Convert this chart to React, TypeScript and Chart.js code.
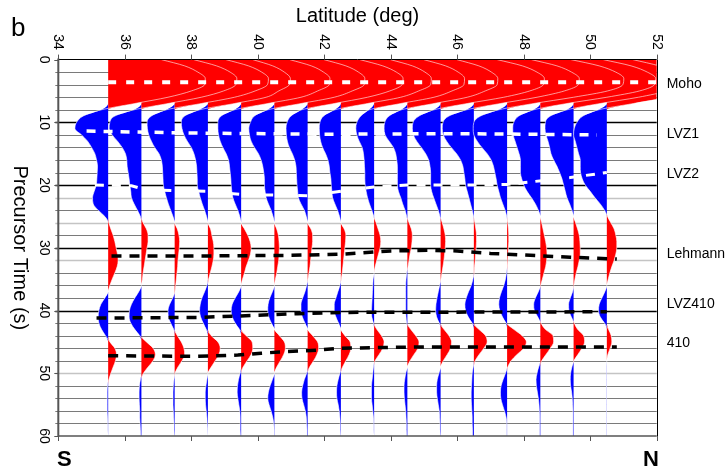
import React, { useEffect, useRef } from 'react';
import { Chart, registerables } from 'chart.js';

Chart.register(...registerables);

// ---------- data ----------
const times = [
  0, 1, 2, 3, 4, 5, 6, 7, 8, 9, 10, 11, 12, 13, 14, 15, 16, 17, 18, 19, 20,
  21, 22, 23, 24, 25, 26, 27, 28, 29, 30, 31, 32, 33, 34, 35, 36, 37, 38, 39, 40,
  41, 42, 43, 44, 45, 46, 47, 48, 49, 50, 51, 52, 53, 54, 55, 56, 57, 58, 59, 60,
];

const traceLatitudes = [35.5, 36.5, 37.5, 38.5, 39.5, 40.5, 41.5, 42.5, 43.5, 44.5, 45.5, 46.5, 47.5, 48.5, 49.5, 50.5];

const amp35_5 = [1.6, 2.3, 2.7, 2.92, 2.9, 2.5, 1.8, 0.8,
  -0.2, -0.75, -0.95, -1.0, -0.8, -0.62, -0.5, -0.4, -0.35, -0.32, -0.33, -0.34, -0.36, -0.42, -0.47, -0.45, -0.3, -0.1,
  0.02, 0.08, 0.15, 0.2, 0.24, 0.28, 0.3, 0.27, 0.2, 0.12, 0.05, 0.0,
  -0.1, -0.22, -0.28, -0.3, -0.28, -0.2, -0.08,
  0.05, 0.2, 0.25, 0.22, 0.15, 0.08, 0.02,
  -0.02, -0.03, -0.03, -0.03, -0.03, -0.02, -0.01, -0.01, 0];
const amp36_5 = [1.57, 2.26, 2.67, 2.87, 2.84, 2.47, 1.8, 0.8,
  -0.22, -0.8, -0.95, -0.97, -0.88, -0.72, -0.58, -0.48, -0.44, -0.43, -0.4, -0.37, -0.35, -0.32, -0.3, -0.22, -0.12, -0.03,
  0.05, 0.15, 0.2, 0.2, 0.17, 0.14, 0.11, 0.08, 0.05, 0.03, 0.0,
  -0.08, -0.2, -0.3, -0.36, -0.37, -0.32, -0.2, -0.05,
  0.15, 0.35, 0.42, 0.35, 0.2, 0.06,
  -0.03, -0.06, -0.07, -0.07, -0.06, -0.05, -0.05, -0.04, -0.03, -0.02];
const amp37_5 = [1.54, 2.22, 2.62, 2.82, 2.79, 2.42, 1.8, 0.8,
  -0.25, -0.7, -0.83, -0.82, -0.78, -0.7, -0.6, -0.47, -0.4, -0.37, -0.36, -0.35, -0.34, -0.3, -0.25, -0.19, -0.12, -0.05,
  0.0, 0.08, 0.13, 0.15, 0.14, 0.12, 0.1, 0.09, 0.07, 0.05, 0.03, 0.01,
  -0.06, -0.15, -0.2, -0.19, -0.12, -0.03,
  0.08, 0.2, 0.28, 0.3, 0.22, 0.1, 0.01,
  -0.02, -0.04, -0.05, -0.05, -0.05, -0.04, -0.03, -0.02, -0.02, -0.01];
const amp38_5 = [1.35, 1.95, 2.3, 2.48, 2.45, 2.13, 1.75, 0.8,
  -0.25, -0.7, -0.8, -0.78, -0.72, -0.62, -0.5, -0.42, -0.37, -0.34, -0.33, -0.32, -0.32, -0.28, -0.23, -0.17, -0.1, -0.04,
  0.0, 0.08, 0.12, 0.16, 0.18, 0.18, 0.16, 0.12, 0.07, 0.02,
  -0.03, -0.1, -0.18, -0.23, -0.25, -0.22, -0.14, -0.05,
  0.1, 0.3, 0.37, 0.33, 0.22, 0.1, 0.0,
  -0.03, -0.06, -0.08, -0.08, -0.07, -0.05, -0.03, -0.02, -0.01, 0];
const amp39_5 = [1.46, 2.11, 2.48, 2.67, 2.65, 2.3, 1.8, 0.8,
  -0.2, -0.6, -0.7, -0.7, -0.68, -0.63, -0.55, -0.45, -0.38, -0.35, -0.33, -0.31, -0.3, -0.28, -0.25, -0.18, -0.1, -0.04,
  0.0, 0.1, 0.2, 0.27, 0.3, 0.28, 0.22, 0.15, 0.1, 0.04, 0.0,
  -0.07, -0.18, -0.27, -0.3, -0.27, -0.18, -0.05,
  0.15, 0.33, 0.35, 0.3, 0.18, 0.06,
  -0.03, -0.08, -0.11, -0.12, -0.1, -0.07, -0.04, -0.03, -0.03, -0.03, -0.02];
const amp40_5 = [1.49, 2.15, 2.53, 2.72, 2.7, 2.34, 1.8, 0.8,
  -0.2, -0.6, -0.72, -0.77, -0.75, -0.7, -0.6, -0.48, -0.4, -0.35, -0.32, -0.3, -0.3, -0.28, -0.25, -0.18, -0.1, -0.04,
  0.0, 0.07, 0.12, 0.14, 0.15, 0.14, 0.13, 0.1, 0.07, 0.03, 0.0,
  -0.06, -0.14, -0.19, -0.2, -0.17, -0.09, 0.0,
  0.15, 0.3, 0.33, 0.28, 0.18, 0.07, 0.0,
  -0.06, -0.13, -0.18, -0.2, -0.16, -0.1, -0.05, -0.02, -0.01, -0.01];
const amp41_5 = [1.57, 2.26, 2.67, 2.87, 2.84, 2.47, 1.8, 0.8,
  -0.18, -0.5, -0.62, -0.65, -0.64, -0.61, -0.55, -0.46, -0.39, -0.35, -0.34, -0.33, -0.32, -0.3, -0.28, -0.2, -0.1, -0.04,
  0.0, 0.1, 0.15, 0.15, 0.13, 0.11, 0.09, 0.07, 0.04, 0.01,
  -0.03, -0.08, -0.15, -0.2, -0.2, -0.16, -0.08, 0.0,
  0.15, 0.3, 0.33, 0.28, 0.18, 0.06,
  -0.03, -0.1, -0.15, -0.18, -0.17, -0.12, -0.07, -0.04, -0.03, -0.02, -0.02];
const amp42_5 = [1.49, 2.15, 2.53, 2.72, 2.7, 2.34, 1.8, 0.8,
  -0.18, -0.52, -0.63, -0.65, -0.64, -0.61, -0.55, -0.46, -0.39, -0.35, -0.33, -0.3, -0.29, -0.27, -0.25, -0.18, -0.1, -0.04,
  0.0, 0.1, 0.15, 0.14, 0.12, 0.1, 0.08, 0.06, 0.04, 0.01,
  -0.03, -0.09, -0.15, -0.2, -0.2, -0.15, -0.07, 0.0,
  0.12, 0.28, 0.3, 0.25, 0.15, 0.05,
  -0.03, -0.08, -0.12, -0.13, -0.12, -0.08, -0.05, -0.03, -0.02, -0.02, -0.01];
const amp43_5 = [1.49, 2.15, 2.53, 2.72, 2.7, 2.34, 1.8, 0.8,
  -0.15, -0.4, -0.52, -0.55, -0.52, -0.45, -0.36, -0.32, -0.3, -0.29, -0.28, -0.28, -0.27, -0.24, -0.2, -0.14, -0.07, -0.01,
  0.06, 0.12, 0.18, 0.2, 0.18, 0.13, 0.08, 0.03, 0.0,
  -0.03, -0.04, -0.05, -0.06, -0.07, -0.08, -0.07, -0.02,
  0.08, 0.22, 0.3, 0.26, 0.15, 0.03,
  -0.02, -0.04, -0.06, -0.08, -0.08, -0.08, -0.06, -0.04, -0.02, -0.01, -0.01, 0];
const amp44_5 = [1.49, 2.15, 2.53, 2.72, 2.7, 2.34, 1.8, 0.8,
  -0.18, -0.55, -0.68, -0.7, -0.67, -0.55, -0.42, -0.35, -0.32, -0.3, -0.3, -0.3, -0.3, -0.27, -0.2, -0.14, -0.07, -0.02,
  0.05, 0.12, 0.15, 0.14, 0.12, 0.08, 0.05, 0.02,
  -0.02, -0.04, -0.05, -0.05, -0.05, -0.05, -0.05, -0.04, -0.02,
  0.1, 0.25, 0.35, 0.32, 0.2, 0.08, 0.0,
  -0.05, -0.08, -0.1, -0.1, -0.09, -0.07, -0.05, -0.04, -0.03, -0.03, -0.02];
const amp45_5 = [1.7, 2.46, 2.9, 3.12, 3.09, 2.68, 1.9, 0.8,
  -0.2, -0.65, -0.83, -0.85, -0.82, -0.72, -0.58, -0.45, -0.36, -0.32, -0.3, -0.3, -0.3, -0.27, -0.21, -0.14, -0.07, -0.02,
  0.05, 0.1, 0.14, 0.15, 0.14, 0.12, 0.1, 0.07, 0.04, 0.01,
  -0.03, -0.07, -0.11, -0.14, -0.15, -0.12, -0.04,
  0.1, 0.25, 0.33, 0.3, 0.2, 0.08, 0.0,
  -0.05, -0.1, -0.12, -0.12, -0.1, -0.07, -0.04, -0.03, -0.02, -0.02, -0.01];
const amp46_5 = [1.73, 2.5, 2.94, 3.17, 3.14, 2.72, 1.9, 0.8,
  -0.22, -0.75, -0.93, -0.95, -0.92, -0.82, -0.68, -0.52, -0.4, -0.33, -0.3, -0.27, -0.25, -0.2, -0.15, -0.1, -0.05, -0.01,
  0.03, 0.06, 0.08, 0.08, 0.07, 0.05, 0.04, 0.02, 0.01,
  -0.03, -0.08, -0.16, -0.23, -0.27, -0.25, -0.17, -0.05,
  0.15, 0.35, 0.4, 0.3, 0.16, 0.04,
  -0.02, -0.05, -0.06, -0.07, -0.08, -0.08, -0.07, -0.06, -0.05, -0.05, -0.04, -0.04];
const amp47_5 = [1.92, 2.77, 3.27, 3.51, 3.48, 3.02, 2.0, 0.8,
  -0.25, -0.8, -1.0, -1.02, -1.0, -0.9, -0.76, -0.6, -0.48, -0.41, -0.37, -0.33, -0.3, -0.25, -0.2, -0.13, -0.06, -0.01,
  0.02, 0.04, 0.05, 0.05, 0.04, 0.03, 0.02, 0.01,
  -0.02, -0.05, -0.1, -0.17, -0.23, -0.25, -0.22, -0.14, -0.03,
  0.2, 0.45, 0.58, 0.5, 0.3, 0.12, 0.02,
  -0.05, -0.12, -0.18, -0.2, -0.19, -0.14, -0.08, -0.03, -0.01, -0.01, -0.01];
const amp48_5 = [1.89, 2.73, 3.22, 3.47, 3.43, 2.98, 2.0, 0.8,
  -0.2, -0.65, -0.8, -0.83, -0.82, -0.76, -0.7, -0.64, -0.6, -0.6, -0.6, -0.56, -0.5, -0.4, -0.27, -0.15, -0.06, 0.0,
  0.04, 0.08, 0.12, 0.16, 0.19, 0.2, 0.19, 0.16, 0.11, 0.06, 0.01,
  -0.06, -0.15, -0.2, -0.18, -0.08, 0.02,
  0.15, 0.38, 0.4, 0.3, 0.17, 0.04,
  -0.05, -0.1, -0.13, -0.12, -0.09, -0.06, -0.04, -0.03, -0.02, -0.02, -0.02, -0.02];
const amp49_5 = [1.78, 2.57, 3.04, 3.27, 3.23, 2.81, 1.95, 0.8,
  -0.2, -0.7, -0.85, -0.86, -0.83, -0.77, -0.72, -0.68, -0.6, -0.5, -0.42, -0.35, -0.3, -0.25, -0.2, -0.12, -0.05, 0.0,
  0.06, 0.12, 0.17, 0.19, 0.2, 0.2, 0.17, 0.13, 0.08, 0.04, 0.01,
  -0.03, -0.1, -0.15, -0.14, -0.07, 0.02,
  0.12, 0.3, 0.33, 0.25, 0.13, 0.01,
  -0.05, -0.09, -0.1, -0.09, -0.06, -0.04, -0.03, -0.02, -0.02, -0.02, -0.02, -0.02];
const amp50_5 = [1.62, 2.34, 2.76, 2.97, 2.94, 2.55, 1.85, 0.8,
  -0.25, -0.72, -0.9, -0.98, -1.0, -0.95, -0.9, -0.85, -0.8, -0.8, -0.79, -0.74, -0.65, -0.5, -0.36, -0.2, -0.07, 0.02,
  0.12, 0.22, 0.27, 0.3, 0.3, 0.27, 0.22, 0.15, 0.09, 0.04, 0.0,
  -0.06, -0.15, -0.23, -0.25, -0.2, -0.07,
  0.05, 0.13, 0.15, 0.1, 0.03, 0.0,
  -0.01, -0.01, -0.01, -0.01, -0.01, -0.01, -0.01, -0.01, -0.01, -0.01, -0.01, -0.01];

const traceAmplitudes = [amp35_5, amp36_5, amp37_5, amp38_5, amp39_5, amp40_5, amp41_5, amp42_5,
  amp43_5, amp44_5, amp45_5, amp46_5, amp47_5, amp48_5, amp49_5, amp50_5];

// picked phase lines (latitude, time)
const mohoLat = [35.5, 52];
const mohoTime = [3.6, 3.6];
const lvz1Lat = [34.85, 38, 42, 46, 50.2];
const lvz1Time = [11.4, 11.7, 11.9, 11.8, 12.0];
const lvz2Lat = [35.1, 36.2, 36.6, 37.5, 38.5, 39.5, 41.5, 42.5, 43.5, 44.5, 46.5, 47.5, 48.2, 49.4, 50.5];
const lvz2Time = [20.0, 20.1, 20.7, 20.9, 21.0, 21.5, 21.7, 21.0, 20.3, 20.0, 20.0, 19.9, 19.5, 18.8, 18.0];
const lehmannLat = [35.6, 38.5, 41, 42.6, 44, 45.2, 46, 47, 48.2, 49.4, 50.8];
const lehmannTime = [31.3, 31.3, 31.2, 31.0, 30.5, 30.4, 30.5, 30.9, 31.2, 31.5, 31.8];
const lvz410Lat = [35.15, 38.2, 39.8, 41.2, 42.5, 50.5];
const lvz410Time = [41.2, 41.1, 40.8, 40.5, 40.3, 40.2];
const d410Lat = [35.5, 38.2, 39.4, 40.1, 40.7, 41.8, 42.5, 45, 50.8];
const d410Time = [47.2, 47.3, 47.1, 46.8, 46.6, 46.3, 46.0, 45.8, 45.8];

// axis ticks and labels
const latTicks = [34, 36, 38, 40, 42, 44, 46, 48, 50, 52];
const timeTicks = [0, 10, 20, 30, 40, 50, 60];
const phaseNames = ['Moho', 'LVZ1', 'LVZ2', 'Lehmann', 'LVZ410', '410'];
const phaseLabelTimes = [3.9, 11.9, 18.2, 31.0, 39.0, 45.2];
const darkGridTimes = [10, 20, 30, 40];
const lightGridTimes = [22, 26, 32, 50];

// ---------- styling ----------
const RED = '#ff0000';
const BLUE = '#0000ff';
const FONT = '"Liberation Sans", Arial, Helvetica, sans-serif';

function buildDatasets() {
  const ds: any[] = [];
  const curve = { pointRadius: 0, pointHitRadius: 0, cubicInterpolationMode: 'monotone', tension: 0.4 };
  traceLatitudes.forEach((lat, k) => {
    const amps = traceAmplitudes[k];
    ds.push({
      ...curve,
      data: times.map((t, i) => ({ x: lat + Math.max(amps[i], 0), y: t })),
      borderColor: 'rgba(0,0,0,0)', borderWidth: 0,
      backgroundColor: RED, fill: { value: lat }, order: 100 - k,
    });
    ds.push({
      ...curve,
      data: times.map((t, i) => ({ x: lat + Math.min(amps[i], 0), y: t })),
      borderColor: 'rgba(0,0,0,0)', borderWidth: 0,
      backgroundColor: BLUE, fill: { value: lat }, order: 100 - k,
    });
  });
  traceLatitudes.forEach((lat, k) => {
    const amps = traceAmplitudes[k];
    ds.push({
      ...curve,
      data: times.map((t, i) => ({ x: lat + amps[i], y: t })),
      borderColor: 'rgba(255,255,255,0.85)', borderWidth: 0.7, fill: false, order: 20,
    });
  });
  const pick = (lats: number[], ts: number[], color: string, width: number, dash: number[]) => ({
    data: lats.map((x, i) => ({ x, y: ts[i] })),
    borderColor: color, borderWidth: width, borderDash: dash, fill: false,
    pointRadius: 0, pointHitRadius: 0, tension: 0, order: 5,
  });
  ds.push(pick(mohoLat, mohoTime, '#ffffff', 4, [8, 10]));
  ds.push(pick(lvz1Lat, lvz1Time, '#ffffff', 3.5, [9, 8]));
  ds.push(pick(lvz2Lat, lvz2Time, '#ffffff', 3, [9, 8]));
  ds.push(pick(lehmannLat, lehmannTime, '#000000', 3.5, [10, 8]));
  ds.push(pick(lvz410Lat, lvz410Time, '#000000', 3.5, [10, 8]));
  ds.push(pick(d410Lat, d410Time, '#000000', 3.5, [10, 8]));
  return ds;
}

const decorPlugin = {
  id: 'wiggleDecor',
  beforeDatasetsDraw(chart: any) {
    const { ctx, chartArea: a, scales } = chart;
    const ys = scales.y;
    ctx.save();
    for (let t = 2; t < 60; t += 2) {
      const py = Math.round(ys.getPixelForValue(t)) + 0.5;
      let color = '#7a7a7a';
      let w = 1;
      if (darkGridTimes.includes(t)) { color = '#000000'; w = 1.4; }
      else if (lightGridTimes.includes(t)) { color = '#c4c4c4'; w = 1.3; }
      ctx.strokeStyle = color;
      ctx.lineWidth = w;
      ctx.beginPath();
      ctx.moveTo(a.left - 3, py);
      ctx.lineTo(a.right, py);
      ctx.stroke();
    }
    ctx.restore();
  },
  afterDraw(chart: any) {
    const { ctx, chartArea: a, scales } = chart;
    const xs = scales.x;
    const ys = scales.y;
    ctx.save();
    // frame
    ctx.lineWidth = 1;
    ctx.strokeStyle = '#000';
    ctx.beginPath();
    ctx.moveTo(a.left, Math.round(a.top) - 0.5);
    ctx.lineTo(a.right, Math.round(a.top) - 0.5);
    ctx.stroke();
    ctx.beginPath();
    ctx.moveTo(Math.round(a.right) + 0.5, a.top);
    ctx.lineTo(Math.round(a.right) + 0.5, a.bottom);
    ctx.stroke();
    ctx.strokeStyle = '#555';
    ctx.lineWidth = 1.5;
    ctx.beginPath();
    ctx.moveTo(a.left, a.bottom);
    ctx.lineTo(a.right, a.bottom);
    ctx.stroke();
    ctx.lineWidth = 2;
    ctx.beginPath();
    ctx.moveTo(a.left, a.top - 1);
    ctx.lineTo(a.left, a.bottom + 1);
    ctx.stroke();
    // ticks
    ctx.lineWidth = 1;
    ctx.strokeStyle = '#555';
    latTicks.forEach((lat) => {
      const px = Math.round(xs.getPixelForValue(lat)) + 0.5;
      ctx.beginPath();
      ctx.moveTo(px, a.top);
      ctx.lineTo(px, a.top - 5);
      ctx.moveTo(px, a.bottom);
      ctx.lineTo(px, a.bottom + 5);
      ctx.stroke();
    });
    timeTicks.forEach((t) => {
      const py = Math.round(ys.getPixelForValue(t)) + 0.5;
      ctx.beginPath();
      ctx.moveTo(a.left - 4, py);
      ctx.lineTo(a.left, py);
      ctx.stroke();
    });
    // tick labels (rotated clockwise)
    ctx.fillStyle = '#000';
    ctx.font = `14px ${FONT}`;
    ctx.textAlign = 'center';
    ctx.textBaseline = 'middle';
    latTicks.forEach((lat) => {
      const px = xs.getPixelForValue(lat);
      ctx.save();
      ctx.translate(px, 42);
      ctx.rotate(Math.PI / 2);
      ctx.fillText(String(lat), 0, 0);
      ctx.restore();
    });
    timeTicks.forEach((t) => {
      const py = ys.getPixelForValue(t);
      ctx.save();
      ctx.translate(44, py);
      ctx.rotate(Math.PI / 2);
      ctx.fillText(String(t), 0, 0);
      ctx.restore();
    });
    // axis titles
    ctx.font = `20px ${FONT}`;
    ctx.textBaseline = 'alphabetic';
    ctx.fillText('Latitude (deg)', (a.left + a.right) / 2, 22);
    ctx.save();
    ctx.translate(20, (a.top + a.bottom) / 2);
    ctx.rotate(Math.PI / 2);
    ctx.textBaseline = 'middle';
    ctx.fillText('Precursor Time (s)', 0, 0);
    ctx.restore();
    // panel letter
    ctx.textAlign = 'left';
    ctx.font = `26px ${FONT}`;
    ctx.fillText('b', 11, 36);
    // S / N
    ctx.font = `bold 22px ${FONT}`;
    ctx.fillText('S', 57, 466);
    ctx.fillText('N', 643, 466);
    // phase labels
    ctx.font = `14px ${FONT}`;
    ctx.textBaseline = 'middle';
    phaseNames.forEach((name, i) => {
      ctx.fillText(name, a.right + 10, ys.getPixelForValue(phaseLabelTimes[i]));
    });
    ctx.restore();
  },
};

export default function App() {
  const ref = useRef<HTMLCanvasElement>(null);
  useEffect(() => {
    const chart = new Chart(ref.current as HTMLCanvasElement, {
      type: 'line',
      data: { datasets: buildDatasets() },
      options: {
        animation: false,
        responsive: false,
        indexAxis: 'y',
        layout: { padding: { left: 58.3, top: 59.6, right: 70.3, bottom: 33 } },
        scales: {
          x: { type: 'linear', min: 34, max: 52, display: false },
          y: { type: 'linear', min: 0, max: 60, reverse: true, display: false },
        },
        plugins: { legend: { display: false }, tooltip: { enabled: false } },
        elements: { point: { radius: 0 } },
      } as any,
      plugins: [decorPlugin],
    });
    return () => chart.destroy();
  }, []);
  return (
    <div style={{ position: 'absolute', left: 0, top: 0, width: 727, height: 469, background: '#fff' }}>
      <canvas ref={ref} width={727} height={469} style={{ display: 'block' }} />
    </div>
  );
}
